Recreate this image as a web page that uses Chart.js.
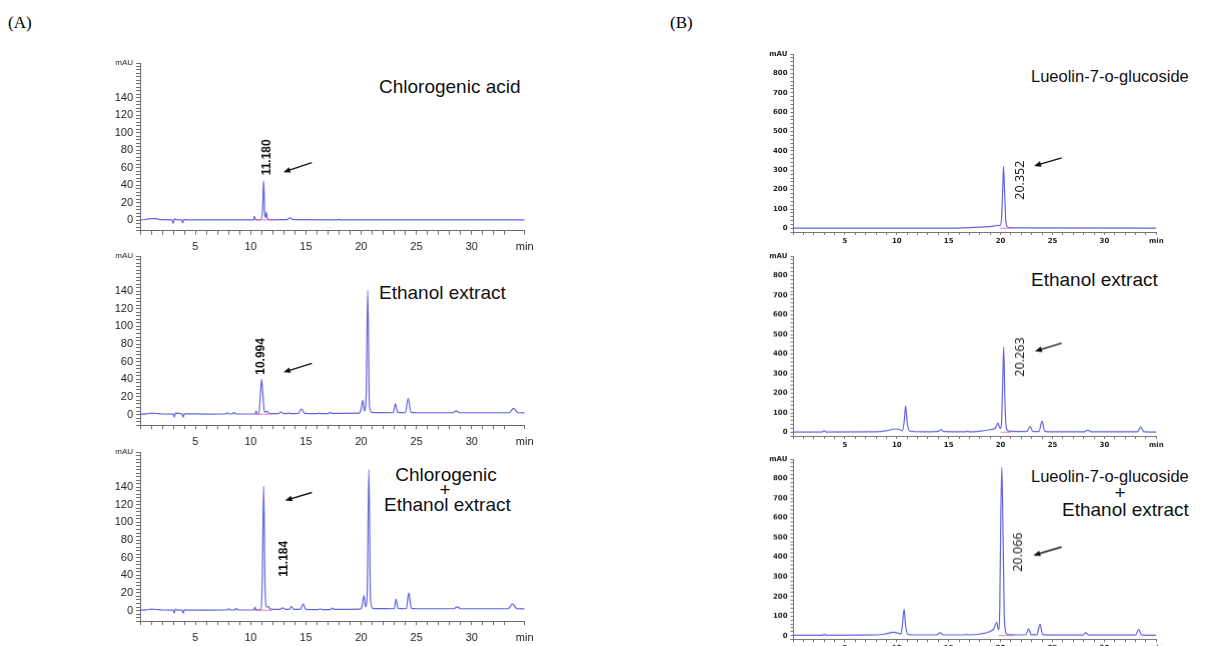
<!DOCTYPE html>
<html>
<head>
<meta charset="utf-8">
<script src="https://cdn.jsdelivr.net/npm/chart.js@4.4.0/dist/chart.umd.min.js"></script>
<style>
  body { margin: 0; background: #fff; width: 1218px; height: 646px; overflow: hidden; position: relative; font-family: "Liberation Sans", Arial, sans-serif; }
  .panel { position: absolute; }
  .title { position: absolute; font-size: 19px; line-height: 19px; color: #111; white-space: nowrap; }
  .title.lut { font-size: 16.5px; line-height: 17px; }
  .center { transform: translateX(-50%); }
  .tag { position: absolute; font-family: "Liberation Serif", "Times New Roman", serif; font-size: 17px; line-height: 17px; color: #000; }
</style>
</head>
<body>
<div class="tag" style="left:8px;top:14px">(A)</div>
<div class="tag" style="left:670px;top:14px">(B)</div>

<div class="title" style="left:379px;top:77px">Chlorogenic acid</div>
<div class="title" style="left:379px;top:283px">Ethanol extract</div>
<div class="title center" style="left:446px;top:465px">Chlorogenic</div>
<div class="title center" style="left:445px;top:480px">+</div>
<div class="title" style="left:384px;top:495px">Ethanol extract</div>

<div class="title lut" style="left:1031px;top:68px">Lueolin-7-o-glucoside</div>
<div class="title" style="left:1031px;top:270px">Ethanol extract</div>
<div class="title lut" style="left:1031px;top:468px">Lueolin-7-o-glucoside</div>
<div class="title center" style="left:1120px;top:483px">+</div>
<div class="title" style="left:1062px;top:500px">Ethanol extract</div>

<script>
// Chromatogram traces: [retention time (min), absorbance (mAU)]
const chlorogenicStd = [
  [0, 0.5], [0.5, 0.8], [0.9, 1.8], [1.4, 1.8], [1.9, 0.6], [2.9, 0.5], [3.0, -3.5], [3.1, 1.5],
  [3.2, 1.0], [3.4, 0.5], [3.75, 0.5], [3.85, -3.0], [3.95, 1.0], [4.2, 0.5], [10.25, 0.5],
  [10.35, 4.5], [10.45, 0.5], [10.95, 0.6], [11.08, 12], [11.18, 45], [11.28, 6], [11.34, 3],
  [11.42, 9], [11.52, 1.5], [11.7, 0.6], [13.3, 0.6], [13.55, 2.8], [13.85, 0.6], [17.8, 0.5],
  [18.0, 0.9], [18.2, 0.5], [34.8, 0.4]
];
const ethanolA = [
  [0, 0.5], [0.6, 0.8], [1.0, 1.5], [1.5, 1.2], [2.0, 0.6], [3.0, 0.5], [3.1, -3], [3.2, 1.5],
  [3.8, 0.5], [3.9, -3], [4.0, 0.8], [5.9, 0.5], [6.0, 0.8], [6.1, 0.5], [7.7, 0.6], [7.9, 1.8],
  [8.1, 0.6], [8.3, 0.6], [8.5, 2.2], [8.7, 0.6], [10.4, 0.6], [10.5, 4], [10.6, 0.8], [10.75, 0.8],
  [10.9, 25], [11.0, 40], [11.1, 25], [11.25, 3], [11.45, 3.5], [11.7, 1.2], [12.5, 1.0],
  [12.75, 2.8], [13.0, 1.0], [13.3, 1.0], [13.45, 1.8], [13.6, 1.0], [14.3, 1.2], [14.6, 6.5],
  [14.9, 1.2], [16.0, 1.0], [16.2, 1.6], [16.4, 1.0], [17.0, 1.0], [17.2, 2.5], [17.4, 1.2],
  [19.8, 1.5], [20.0, 6], [20.15, 16], [20.3, 4], [20.45, 20], [20.6, 141], [20.75, 10],
  [20.95, 2.5], [21.5, 2.2], [22.9, 2.0], [23.1, 12], [23.3, 2.5], [24.0, 2.0], [24.25, 18.5],
  [24.5, 2.5], [25.0, 2.0], [28.3, 2.0], [28.6, 4.2], [28.9, 2.0], [33.4, 2.0], [33.8, 7],
  [34.2, 2.0], [34.8, 1.8]
];
const chlorogenicSpiked = [
  [0, 0.5], [0.6, 0.8], [1.0, 1.5], [1.5, 1.2], [2.0, 0.6], [3.0, 0.5], [3.1, -3], [3.2, 1.5],
  [3.4, 0.5], [3.8, 0.5], [3.9, -3], [4.0, 0.8], [4.3, 0.5], [5.9, 0.5], [6.0, 0.9], [6.1, 0.5],
  [7.8, 0.6], [8.0, 1.8], [8.2, 0.6], [8.5, 0.6], [8.7, 2.2], [8.9, 0.6], [10.3, 0.6], [10.4, 4],
  [10.5, 0.8], [10.9, 0.8], [11.05, 30], [11.18, 141], [11.3, 30], [11.45, 4], [11.6, 4.5],
  [11.8, 1.5], [12.6, 1.2], [12.9, 3], [13.2, 1.2], [13.5, 1.5], [13.7, 4.5], [13.9, 1.2],
  [14.5, 1.2], [14.75, 7.5], [15.0, 1.2], [16.1, 1.0], [16.3, 1.8], [16.5, 1.0], [17.2, 1.0],
  [17.4, 2.8], [17.6, 1.2], [19.9, 1.5], [20.1, 6], [20.25, 17], [20.4, 4], [20.55, 20],
  [20.7, 160], [20.85, 12], [21.05, 2.5], [21.6, 2.2], [23.0, 2.0], [23.15, 13], [23.35, 2.5],
  [23.9, 2.0], [24.1, 2.5], [24.3, 20], [24.55, 2.5], [25.0, 2.0], [28.4, 2.0], [28.7, 4.2],
  [29.0, 2.0], [33.3, 2.0], [33.7, 7.5], [34.1, 2.0], [34.8, 1.8]
];
const luteolinStd = [
  [0, 2], [15, 2], [16.5, 3], [17.5, 5], [18.5, 8], [19.3, 12], [19.8, 16], [19.95, 14],
  [20.1, 60], [20.2, 200], [20.28, 320], [20.38, 200], [20.5, 40], [20.65, 8], [20.9, 4],
  [21.5, 2.5], [35, 2]
];
const ethanolB = [
  [0, 2], [2.8, 2], [3.0, 8], [3.2, 2], [8.0, 3], [9.0, 8], [9.9, 18], [10.3, 14], [10.55, 8],
  [10.72, 60], [10.85, 135], [11.0, 50], [11.2, 8], [11.6, 4], [12.5, 3], [13.9, 4], [14.3, 13],
  [14.5, 4], [16.6, 3], [16.8, 6], [17.0, 3], [18.0, 6], [19.0, 14], [19.5, 22], [19.75, 48],
  [19.95, 20], [20.08, 40], [20.2, 250], [20.3, 435], [20.42, 150], [20.58, 15], [20.9, 6],
  [22.5, 4], [22.85, 30], [23.1, 5], [23.7, 5], [24.0, 57], [24.25, 6], [25, 3], [28.1, 3],
  [28.4, 12], [28.7, 3], [33.2, 3], [33.5, 28], [33.8, 3], [35, 2]
];
const luteolinSpiked = [
  [0, 2], [2.8, 2], [3.0, 7], [3.2, 2], [7.5, 3], [8.8, 8], [9.7, 18], [10.1, 14], [10.4, 8],
  [10.55, 60], [10.7, 136], [10.85, 50], [11.05, 8], [11.5, 4], [13.8, 4], [14.2, 15], [14.45, 4],
  [16.5, 4], [16.7, 7], [16.9, 4], [18.0, 8], [19.0, 22], [19.35, 35], [19.62, 68], [19.8, 30],
  [19.92, 150], [20.02, 600], [20.12, 858], [20.24, 500], [20.37, 80], [20.57, 10], [20.9, 5],
  [22.4, 4], [22.7, 34], [22.95, 5], [23.5, 5], [23.8, 58], [24.05, 6], [25, 3], [27.9, 3],
  [28.2, 15], [28.5, 3], [33.0, 3], [33.3, 32], [33.6, 3], [35, 2]
];
// integration baselines (pink)
const chlorogenicStdBase = [[10.6, 0.4], [12.45, 0.4]];
const ethanolABase = [[10.4, 0.4], [11.9, 0.4]];
const chlorogenicSpikedBase = [[10.3, 0.4], [12.0, 0.4]];
const luteolinStdBase = [[19.95, 1], [21.2, 1]];
const ethanolBBase = [[20.0, 1], [21.0, 1]];
const luteolinSpikedBase = [[19.8, 1], [21.3, 1]];

const TRACE_COLOR = "rgba(98, 98, 224, 1)";
const BASE_COLOR = "rgba(232, 110, 200, 0.9)";

// Draw rotated retention-time label and the pointing arrow
const peakNotes = {
  id: "peakNotes",
  afterDatasetsDraw(chart, args, opts) {
    const { ctx } = chart;
    const x = chart.scales.x, y = chart.scales.y;
    if (opts.label) {
      ctx.save();
      ctx.translate(x.getPixelForValue(opts.label.x), y.getPixelForValue(opts.label.y));
      ctx.rotate(-Math.PI / 2);
      ctx.font = opts.label.font;
      ctx.fillStyle = "#111";
      ctx.textAlign = "center";
      ctx.textBaseline = "middle";
      ctx.fillText(opts.label.text, 0, 0);
      ctx.restore();
    }
    if (opts.arrow) {
      const a = opts.arrow;
      const x1 = x.getPixelForValue(a.x1), y1 = y.getPixelForValue(a.y1);
      const x2 = x.getPixelForValue(a.x2), y2 = y.getPixelForValue(a.y2);
      const ang = Math.atan2(y2 - y1, x2 - x1);
      ctx.save();
      ctx.strokeStyle = "#111";
      ctx.fillStyle = "#111";
      ctx.lineWidth = 1.4;
      ctx.beginPath();
      ctx.moveTo(x1, y1);
      ctx.lineTo(x2 - 4 * Math.cos(ang), y2 - 4 * Math.sin(ang));
      ctx.stroke();
      ctx.beginPath();
      ctx.moveTo(x2, y2);
      ctx.lineTo(x2 - 7 * Math.cos(ang) + 2.8 * Math.sin(ang), y2 - 7 * Math.sin(ang) - 2.8 * Math.cos(ang));
      ctx.lineTo(x2 - 7 * Math.cos(ang) - 2.8 * Math.sin(ang), y2 - 7 * Math.sin(ang) + 2.8 * Math.cos(ang));
      ctx.closePath();
      ctx.fill();
      ctx.restore();
    }
  }
};

const styleA = {
  xMax: 34.8, yMin: -12, yMax: 180, yStep: 4, yLabelStep: 20, yLabelMax: 140,
  tickFont: { family: "'Liberation Sans Narrow', 'Liberation Sans', Arial", size: 11 },
  unitFont: { family: "'Liberation Sans Narrow', 'Liberation Sans', Arial", size: 8 },
  tickLen: 4, yPad: 3, xPad: 6, axisColor: "#6a6a6a", labelColor: "#222",
  noteFont: "bold 12px 'Liberation Sans Narrow', 'Liberation Sans', Arial"
};
const styleB = {
  xMax: 35, yMin: -20, yMax: 900, yStep: 20, yLabelStep: 100, yLabelMax: 800,
  tickFont: { family: "'DejaVu Sans', 'Liberation Sans', Arial", size: 7, weight: "bold" },
  unitFont: { family: "'DejaVu Sans', 'Liberation Sans', Arial", size: 7, weight: "bold" },
  tickLen: 2.5, yPad: 3, xPad: 2, axisColor: "#777", labelColor: "#222",
  noteFont: "12.5px 'Open Sans', 'Liberation Sans', Arial"
};

const panels = [
  { trace: chlorogenicStd, base: chlorogenicStdBase, style: styleA, area: { l: 140.3, r: 524, t: 62.8, b: 230.5 },
    label: { text: "11.180", x: 11.46, y: 72 }, arrow: { x1: 15.54, y1: 66, x2: 12.96, y2: 55 } },
  { trace: ethanolA, base: ethanolABase, style: styleA, area: { l: 140.3, r: 524, t: 255.5, b: 424.6 },
    label: { text: "10.994", x: 10.97, y: 66 }, arrow: { x1: 15.54, y1: 58, x2: 12.96, y2: 48 } },
  { trace: chlorogenicSpiked, base: chlorogenicSpikedBase, style: styleA, area: { l: 140.3, r: 524, t: 451.5, b: 620.6 },
    label: { text: "11.184", x: 13.03, y: 58.7 }, arrow: { x1: 15.54, y1: 134, x2: 13.12, y2: 125 } },
  { trace: luteolinStd, base: luteolinStdBase, style: styleB, area: { l: 793, r: 1156.3, t: 53.9, b: 232.2 },
    label: { text: "20.352", x: 21.93, y: 249 }, arrow: { x1: 25.88, y1: 364, x2: 23.22, y2: 322 } },
  { trace: ethanolB, base: ethanolBBase, style: styleB, area: { l: 793, r: 1156.3, t: 256.2, b: 435.6 },
    label: { text: "20.263", x: 21.93, y: 385 }, arrow: { x1: 25.88, y1: 456, x2: 23.31, y2: 414 } },
  { trace: luteolinSpiked, base: luteolinSpikedBase, style: styleB, area: { l: 793, r: 1156.3, t: 459.2, b: 638.9 },
    label: { text: "20.066", x: 21.7, y: 426 }, arrow: { x1: 25.88, y1: 452, x2: 23.15, y2: 409 } }
];

const toPoints = (arr) => arr.map(([t, v]) => ({ x: t, y: v }));

function buildPanel(p) {
  const s = p.style;
  const yAxisW = 45, padTop = 14, padRight = 22, xAxisH = 24;
  const left = p.area.l - yAxisW, top = p.area.t - padTop;
  const width = p.area.r - p.area.l + yAxisW + padRight;
  const height = p.area.b - p.area.t + padTop + xAxisH;

  const box = document.createElement("div");
  box.className = "panel";
  box.style.left = left + "px";
  box.style.top = top + "px";
  box.style.width = width + "px";
  box.style.height = height + "px";
  const canvas = document.createElement("canvas");
  box.appendChild(canvas);
  document.body.appendChild(box);

  new Chart(canvas, {
    type: "line",
    data: {
      datasets: [
        { data: toPoints(p.base), borderColor: BASE_COLOR, borderWidth: 1, pointRadius: 0 },
        { data: toPoints(p.trace), borderColor: TRACE_COLOR, borderWidth: 1.2, pointRadius: 0, cubicInterpolationMode: "monotone" }
      ]
    },
    options: {
      responsive: true,
      maintainAspectRatio: false,
      animation: false,
      events: [],
      layout: { autoPadding: false, padding: { top: padTop, right: padRight, left: 0, bottom: 0 } },
      plugins: {
        legend: { display: false },
        tooltip: { enabled: false },
        peakNotes: { label: { ...p.label, font: s.noteFont }, arrow: p.arrow }
      },
      scales: {
        x: {
          type: "linear",
          min: 0,
          max: s.xMax,
          afterFit: (scale) => { scale.height = xAxisH; },
          border: { display: true, color: s.axisColor, width: 1 },
          grid: { drawOnChartArea: false, drawTicks: true, tickLength: s.tickLen, color: s.axisColor },
          ticks: {
            stepSize: 1,
            autoSkip: false,
            maxRotation: 0,
            padding: s.xPad,
            color: s.labelColor,
            font: s.tickFont,
            callback: (v) => (v === s.xMax ? "min" : v > 0 && v % 5 === 0 ? String(v) : "")
          }
        },
        y: {
          min: s.yMin,
          max: s.yMax,
          afterFit: (scale) => { scale.width = yAxisW; },
          border: { display: true, color: s.axisColor, width: 1 },
          grid: { drawOnChartArea: false, drawTicks: true, tickLength: s.tickLen, color: s.axisColor },
          ticks: {
            stepSize: s.yStep,
            autoSkip: false,
            includeBounds: false,
            padding: s.yPad,
            color: s.labelColor,
            font: (ctx) => (ctx.tick && ctx.tick.value === s.yMax ? s.unitFont : s.tickFont),
            callback: (v) => {
              if (v === s.yMax) return "mAU";
              return v >= 0 && v <= s.yLabelMax && v % s.yLabelStep === 0 ? String(v) : "";
            }
          }
        }
      }
    },
    plugins: [peakNotes]
  });
}

panels.forEach(buildPanel);
</script>
</body>
</html>
